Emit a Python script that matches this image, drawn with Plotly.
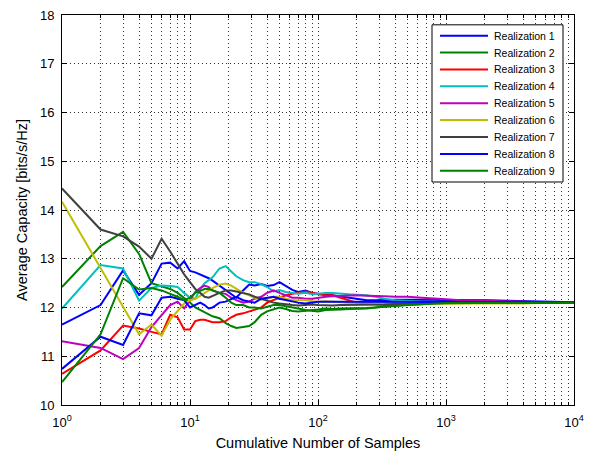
import plotly.graph_objects as go

# Cumulative sample counts at which the running average is recorded
samples = [1, 2, 3, 4, 5, 6, 7, 8, 9, 10, 11, 12, 13, 14, 15, 17, 19, 21, 23, 26,
           29, 32, 36, 40, 45, 50, 56, 63, 70, 80, 90, 100, 115, 130, 150, 175, 200,
           240, 280, 330, 400, 500, 650, 800, 1000, 1300, 1700, 2200, 3000, 4000,
           5500, 7500, 10000]

# Running average capacity [bits/s/Hz] for each channel realization
realization_1 = [11.65, 12.05, 12.76, 12.26, 12.5, 12.9, 12.92, 12.8, 12.95, 12.75, 12.72, 12.68, 12.65,
                 12.6, 12.55, 12.45, 12.35, 12.28, 12.2, 12.35, 12.47, 12.45, 12.48, 12.44, 12.46, 12.52,
                 12.45, 12.36, 12.32, 12.35, 12.3, 12.28, 12.26, 12.25, 12.22, 12.2, 12.18, 12.15, 12.15,
                 12.16, 12.16, 12.16, 12.16, 12.16, 12.16, 12.15, 12.15, 12.15, 12.14, 12.13, 12.12,
                 12.12, 12.11]
realization_2 = [12.42, 13.26, 13.55, 13.1, 12.5, 12.43, 12.38, 12.3, 12.2, 12.1, 12.0, 11.95, 11.9,
                 11.85, 11.82, 11.78, 11.68, 11.62, 11.58, 11.6, 11.62, 11.7, 11.85, 11.92, 11.97, 12.0,
                 11.97, 11.93, 11.92, 11.93, 11.95, 11.96, 11.98, 11.97, 11.98, 11.98, 11.98, 11.99, 12.0,
                 12.02, 12.04, 12.05, 12.07, 12.08, 12.08, 12.09, 12.09, 12.1, 12.1, 12.1, 12.1, 12.1,
                 12.1]
realization_3 = [10.64, 11.12, 11.63, 11.57, 11.5, 11.45, 11.85, 11.8, 11.55, 11.55, 11.72, 11.75, 11.75,
                 11.73, 11.7, 11.7, 11.72, 11.8, 11.85, 11.88, 11.92, 11.95, 12.0, 12.1, 12.15, 12.2,
                 12.25, 12.28, 12.3, 12.33, 12.3, 12.27, 12.25, 12.25, 12.2, 12.15, 12.1, 12.08, 12.06,
                 12.05, 12.05, 12.07, 12.08, 12.09, 12.1, 12.1, 12.1, 12.1, 12.1, 12.1, 12.1, 12.1, 12.1]
realization_4 = [11.98, 12.87, 12.8, 12.14, 12.4, 12.45, 12.44, 12.42, 12.3, 12.2, 12.18, 12.38, 12.5,
                 12.56, 12.62, 12.8, 12.85, 12.74, 12.64, 12.56, 12.52, 12.52, 12.48, 12.42, 12.33, 12.36,
                 12.32, 12.3, 12.28, 12.3, 12.27, 12.28, 12.3, 12.3, 12.28, 12.27, 12.26, 12.25, 12.22,
                 12.18, 12.15, 12.13, 12.12, 12.12, 12.11, 12.11, 12.1, 12.1, 12.1, 12.1, 12.1, 12.1,
                 12.1]
realization_5 = [11.31, 11.17, 10.94, 11.17, 11.6, 11.85, 12.05, 12.12, 11.98, 12.15, 12.32, 12.4, 12.45,
                 12.42, 12.35, 12.3, 12.28, 12.2, 12.15, 12.1, 12.12, 12.18, 12.22, 12.3, 12.35, 12.3,
                 12.25, 12.2, 12.2, 12.18, 12.18, 12.2, 12.22, 12.23, 12.24, 12.25, 12.25, 12.24, 12.24,
                 12.23, 12.22, 12.22, 12.2, 12.19, 12.17, 12.15, 12.14, 12.13, 12.12, 12.12, 12.11,
                 12.11, 12.11]
realization_6 = [14.17, 12.8, 12.0, 11.45, 11.65, 11.42, 11.75, 11.92, 12.08, 12.15, 12.18, 12.24, 12.3,
                 12.35, 12.4, 12.47, 12.49, 12.45, 12.38, 12.3, 12.25, 12.2, 12.16, 12.18, 12.22, 12.22,
                 12.18, 12.15, 12.15, 12.15, 12.13, 12.12, 12.13, 12.12, 12.1, 12.1, 12.1, 12.1, 12.09,
                 12.09, 12.08, 12.08, 12.08, 12.08, 12.08, 12.08, 12.07, 12.07, 12.07, 12.08, 12.09,
                 12.1, 12.1]
realization_7 = [14.44, 13.6, 13.46, 13.25, 13.0, 13.41, 13.15, 12.9, 12.68, 12.52, 12.38, 12.3, 12.22,
                 12.2, 12.24, 12.3, 12.35, 12.35, 12.33, 12.3, 12.27, 12.22, 12.18, 12.14, 12.1, 12.08,
                 12.06, 12.05, 12.04, 12.05, 12.06, 12.05, 12.04, 12.04, 12.05, 12.05, 12.05, 12.05, 12.05,
                 12.06, 12.07, 12.08, 12.09, 12.09, 12.1, 12.1, 12.1, 12.1, 12.1, 12.1, 12.1, 12.1, 12.1]
realization_8 = [10.74, 11.4, 11.23, 11.88, 11.84, 12.2, 12.22, 12.18, 12.15, 12.0, 12.05, 12.1, 12.05,
                 11.98, 12.0, 12.1, 12.12, 12.18, 12.22, 12.15, 12.12, 12.1, 12.18, 12.2, 12.22, 12.18,
                 12.15, 12.12, 12.1, 12.08, 12.1, 12.12, 12.12, 12.12, 12.12, 12.12, 12.12, 12.12, 12.12,
                 12.12, 12.12, 12.12, 12.12, 12.12, 12.12, 12.12, 12.11, 12.11, 12.11, 12.11, 12.11,
                 12.11, 12.11]
realization_9 = [10.47, 11.45, 12.6, 12.37, 12.4, 12.35, 12.28, 12.22, 12.15, 12.2, 12.3, 12.35, 12.38,
                 12.38, 12.35, 12.3, 12.2, 12.1, 12.05, 12.05, 12.0, 12.0, 11.98, 12.02, 12.05, 12.05,
                 12.03, 12.0, 11.98, 11.95, 11.93, 11.92, 11.95, 11.95, 11.96, 11.97, 11.97, 11.98, 12.0,
                 12.02, 12.03, 12.05, 12.07, 12.08, 12.09, 12.09, 12.1, 12.1, 12.1, 12.1, 12.1, 12.1,
                 12.1]

series_names = ["Realization 1", "Realization 2", "Realization 3", "Realization 4",
                "Realization 5", "Realization 6", "Realization 7", "Realization 8",
                "Realization 9"]
series_values = [realization_1, realization_2, realization_3, realization_4, realization_5,
                 realization_6, realization_7, realization_8, realization_9]

x_tick_values = [1, 10, 100, 1000, 10000]
x_tick_labels = ["10<sup>0</sup>", "10<sup>1</sup>", "10<sup>2</sup>", "10<sup>3</sup>", "10<sup>4</sup>"]
x_minor_values = [m * d for d in (1, 10, 100, 1000) for m in range(2, 10)]
y_tick_values = [10, 11, 12, 13, 14, 15, 16, 17, 18]

# classic MATLAB line colour order
colors = ["#0000FF", "#008000", "#FF0000", "#00BFBF", "#BF00BF", "#BFBF00", "#404040",
          "#0000FF", "#008000"]

FONT = "Liberation Sans, Arial, sans-serif"
W, H = 611, 461
ML, MR, MT, MB = 62, 37, 8, 56
PW, PH = W - ML - MR, H - MT - MB


def px_to_paper_x(px):
    return (px - ML) / PW


def px_to_paper_y(py):
    return (H - MB - py) / PH


fig = go.Figure()
for name, vals, col in zip(series_names, series_values, colors):
    fig.add_trace(go.Scatter(x=samples, y=vals, mode="lines", name=name,
                             line=dict(color=col, width=2), showlegend=False))

# Boxed legend in the upper-right corner of the axes
shapes = [dict(type="rect", xref="paper", yref="paper", layer="above",
               x0=px_to_paper_x(432), x1=px_to_paper_x(563),
               y0=px_to_paper_y(178), y1=px_to_paper_y(18),
               fillcolor="white", line=dict(color="black", width=1))]
annotations = []
for i, (name, col) in enumerate(zip(series_names, colors)):
    yy = px_to_paper_y(29 + i * 17.2)
    shapes.append(dict(type="line", xref="paper", yref="paper", layer="above",
                       x0=px_to_paper_x(440), x1=px_to_paper_x(488), y0=yy, y1=yy,
                       line=dict(color=col, width=2)))
    annotations.append(dict(text=name, xref="paper", yref="paper", x=px_to_paper_x(492),
                            y=yy, xanchor="left", yanchor="middle", showarrow=False,
                            font=dict(family=FONT, size=10.5, color="black")))

grid_dash = "1px,3px"
grid_col = "#333333"

fig.update_layout(
    width=W, height=H,
    margin=dict(l=ML, r=MR, t=MT, b=MB, pad=0),
    paper_bgcolor="white", plot_bgcolor="white",
    font=dict(family=FONT, color="black"),
    showlegend=False,
    shapes=shapes,
    annotations=annotations,
)

fig.update_xaxes(
    type="log", range=[0, 4],
    tickmode="array", tickvals=x_tick_values, ticktext=x_tick_labels,
    ticks="inside", ticklen=5, tickwidth=1, tickcolor="black",
    showline=True, linecolor="black", linewidth=1, mirror="ticks",
    showgrid=True, gridcolor=grid_col, gridwidth=1, griddash=grid_dash,
    minor=dict(tickmode="array", tickvals=x_minor_values, ticks="inside", ticklen=3,
               tickcolor="black", showgrid=True, gridcolor=grid_col, gridwidth=1,
               griddash=grid_dash),
    zeroline=False,
    tickfont=dict(family=FONT, size=13, color="black"),
    ticklabelstandoff=5,
    title=dict(text="Cumulative Number of Samples", font=dict(family=FONT, size=14.5),
               standoff=9),
)

fig.update_yaxes(
    range=[10, 18], tickmode="array", tickvals=y_tick_values,
    ticks="inside", ticklen=5, tickwidth=1, tickcolor="black",
    showline=True, linecolor="black", linewidth=1, mirror="ticks",
    showgrid=True, gridcolor=grid_col, gridwidth=1, griddash=grid_dash,
    zeroline=False,
    tickfont=dict(family=FONT, size=13, color="black"),
    ticklabelstandoff=4,
    title=dict(text="Average Capacity [bits/s/Hz]", font=dict(family=FONT, size=14.5),
               standoff=8),
)

fig.write_html("out.html")
